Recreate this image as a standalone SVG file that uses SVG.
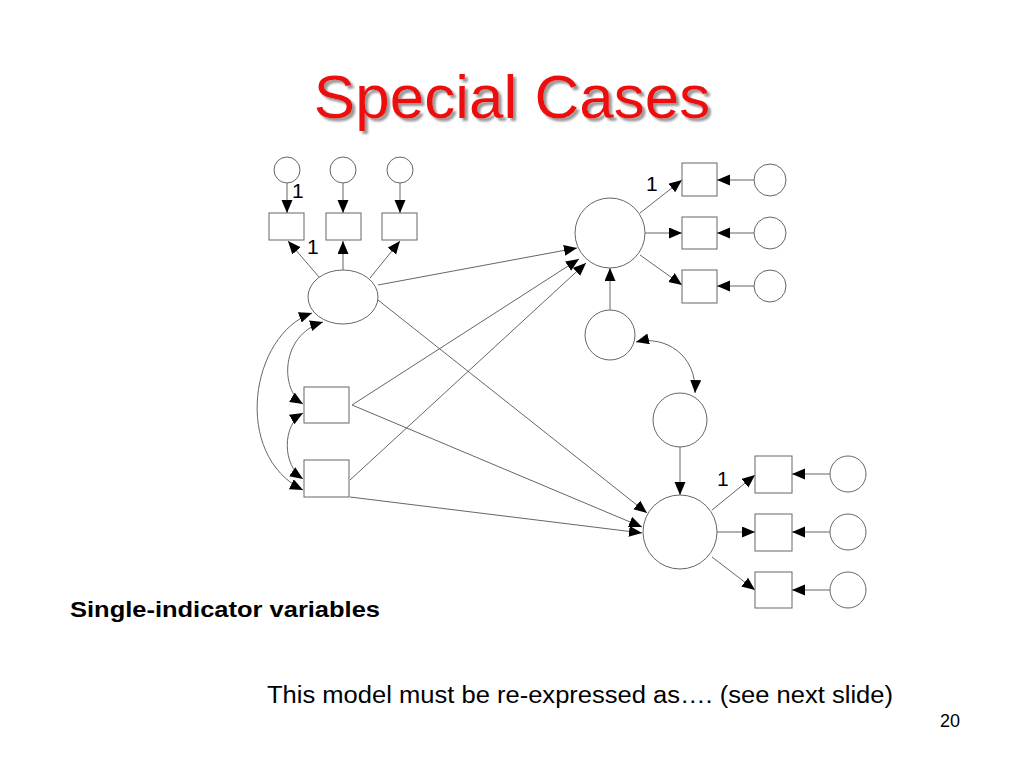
<svg xmlns="http://www.w3.org/2000/svg" width="1024" height="768" viewBox="0 0 1024 768">
<style>
.n{fill:#fff;stroke:#666;stroke-width:1}
.c{fill:none;stroke:#666;stroke-width:1;marker-end:url(#ah)}
.d{fill:none;stroke:#666;stroke-width:1;marker-end:url(#ah);marker-start:url(#ah)}
.lb{font-family:"Liberation Sans",Arial,sans-serif;font-size:21px;fill:#000}
</style>
<defs>
<marker id="ah" markerUnits="userSpaceOnUse" markerWidth="14" markerHeight="12" refX="13" refY="5.5" orient="auto-start-reverse" viewBox="0 0 14 12">
<path d="M0,0 L13,5.5 L0,11 z" fill="#000"/>
</marker>
<filter id="sh" x="-10%" y="-20%" width="120%" height="150%">
<feDropShadow dx="3" dy="3" stdDeviation="0.8" flood-color="#999" flood-opacity="1"/>
</filter>
</defs>
<rect width="1024" height="768" fill="#fff"/>
<text x="512" y="118" text-anchor="middle" font-family="Liberation Sans,Arial,sans-serif" font-size="62" fill="#ee1111" filter="url(#sh)">Special Cases</text>

<g id="connectors">
<line class="c" x1="287" y1="183" x2="287" y2="213"/>
<line class="c" x1="343" y1="183" x2="343" y2="213"/>
<line class="c" x1="400" y1="183" x2="400" y2="213"/>
<line class="c" x1="319" y1="277" x2="288" y2="241"/>
<line class="c" x1="343" y1="270" x2="343" y2="241"/>
<line class="c" x1="370" y1="278" x2="400" y2="241"/>
<line class="c" x1="640" y1="213" x2="682" y2="180"/>
<line class="c" x1="645" y1="233" x2="682" y2="233"/>
<line class="c" x1="640" y1="255" x2="682" y2="285"/>
<line class="c" x1="754" y1="180" x2="717" y2="180"/>
<line class="c" x1="754" y1="233" x2="717" y2="233"/>
<line class="c" x1="754" y1="286" x2="717" y2="286"/>
<line class="c" x1="610" y1="310" x2="610" y2="268"/>
<path class="d" d="M636,342 C665,335 697,355 695,393"/>
<line class="c" x1="680" y1="447" x2="680" y2="495"/>
<line class="c" x1="712" y1="510" x2="755" y2="475"/>
<line class="c" x1="717" y1="532" x2="755" y2="532"/>
<line class="c" x1="712" y1="557" x2="755" y2="590"/>
<line class="c" x1="830" y1="474" x2="792" y2="474"/>
<line class="c" x1="830" y1="532" x2="792" y2="532"/>
<line class="c" x1="830" y1="590" x2="792" y2="590"/>
<path class="d" d="M312,313 C250,335 232,455 303,490"/>
<path class="d" d="M323,322 C280,335 280,390 303,404"/>
<path class="d" d="M303,413 C282,425 282,465 303,479"/>
<line class="c" x1="378" y1="285" x2="577" y2="248"/>
<line class="c" x1="352" y1="405" x2="579" y2="259"/>
<line class="c" x1="350" y1="480" x2="586" y2="263"/>
<line class="c" x1="378" y1="300" x2="647" y2="513"/>
<line class="c" x1="352" y1="405" x2="642" y2="527"/>
<line class="c" x1="350" y1="497" x2="642" y2="533"/>
</g>

<g id="e1"><circle class="n" cx="287" cy="170" r="13"/></g>
<g id="e2"><circle class="n" cx="343" cy="170" r="13"/></g>
<g id="e3"><circle class="n" cx="400" cy="170" r="13"/></g>
<g id="x1"><rect class="n" x="269" y="213" width="35" height="27"/></g>
<g id="x2"><rect class="n" x="326" y="213" width="35" height="27"/></g>
<g id="x3"><rect class="n" x="382" y="213" width="35" height="27"/></g>
<g id="ksi"><ellipse class="n" cx="343" cy="297" rx="35" ry="27"/></g>
<g id="xa"><rect class="n" x="304" y="387" width="45" height="36"/></g>
<g id="xb"><rect class="n" x="304" y="460" width="45" height="37"/></g>

<g id="eta1"><circle class="n" cx="610" cy="233" r="35"/></g>
<g id="y1"><rect class="n" x="682" y="163" width="35" height="33"/></g>
<g id="y2"><rect class="n" x="682" y="217" width="35" height="32"/></g>
<g id="y3"><rect class="n" x="682" y="270" width="35" height="33"/></g>
<g id="ey1"><circle class="n" cx="770" cy="180" r="16"/></g>
<g id="ey2"><circle class="n" cx="770" cy="233" r="16"/></g>
<g id="ey3"><circle class="n" cx="770" cy="286" r="16"/></g>
<g id="z1"><circle class="n" cx="610" cy="335" r="25"/></g>
<g id="z2"><circle class="n" cx="680" cy="420" r="27"/></g>

<g id="eta2"><circle class="n" cx="680" cy="532" r="37"/></g>
<g id="y4"><rect class="n" x="755" y="456" width="37" height="37"/></g>
<g id="y5"><rect class="n" x="755" y="514" width="37" height="37"/></g>
<g id="y6"><rect class="n" x="755" y="572" width="37" height="36"/></g>
<g id="ey4"><circle class="n" cx="848" cy="474" r="18"/></g>
<g id="ey5"><circle class="n" cx="848" cy="532" r="18"/></g>
<g id="ey6"><circle class="n" cx="848" cy="590" r="18"/></g>

<text class="lb" x="292" y="198">1</text>
<text class="lb" x="307" y="254">1</text>
<text class="lb" x="646" y="191">1</text>
<text class="lb" x="717" y="486">1</text>

<text x="70" y="617" font-family="Liberation Sans,Arial,sans-serif" font-size="22" font-weight="bold" fill="#000" textLength="310" lengthAdjust="spacingAndGlyphs">Single-indicator variables</text>
<text x="267" y="703" font-family="Liberation Sans,Arial,sans-serif" font-size="23" fill="#000" textLength="626" lengthAdjust="spacingAndGlyphs">This model must be re-expressed as…. (see next slide)</text>
<text x="960" y="727" text-anchor="end" font-family="Liberation Sans,Arial,sans-serif" font-size="18" fill="#000">20</text>
</svg>
